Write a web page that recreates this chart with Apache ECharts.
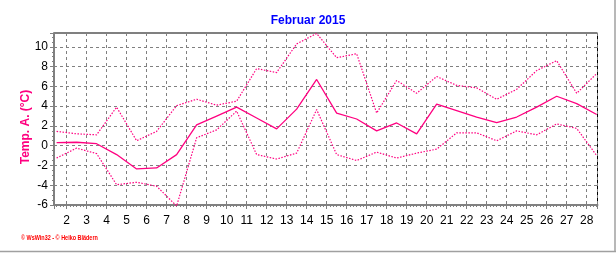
<!DOCTYPE html>
<html>
<head>
<meta charset="utf-8">
<script src="https://cdn.jsdelivr.net/npm/echarts@6/dist/echarts.min.js"></script>
<style>html,body{margin:0;padding:0;background:#fff}#c{width:616px;height:253px}</style>
</head>
<body>
<div id="c"></div>
<script>
// Day of month (values are plotted at mid-day)
const days = [1,2,3,4,5,6,7,8,9,10,11,12,13,14,15,16,17,18,19,20,21,22,23,24,25,26,27,28];
// Daily mean temperature (°C)
const tempMean = [0.3,0.35,0.2,-0.9,-2.35,-2.25,-0.9,2.1,3.0,3.9,2.8,1.7,3.7,6.7,3.3,2.7,1.5,2.3,1.2,4.2,3.55,2.9,2.33,2.9,3.9,5.0,4.25,3.15];
// Daily maximum temperature (°C)
const tempMax = [1.45,1.2,1.1,3.9,0.5,1.45,4.05,4.7,4.1,4.5,7.8,7.4,10.3,11.35,8.9,9.3,3.3,6.6,5.3,7.0,6.1,5.85,4.7,5.7,7.6,8.6,5.3,7.3];
// Daily minimum temperature (°C)
const tempMin = [-1.25,-0.25,-0.8,-3.95,-3.7,-4.1,-6.1,0.8,1.6,3.5,-0.9,-1.35,-0.75,3.65,-0.9,-1.5,-0.65,-1.25,-0.75,-0.35,1.3,1.3,0.5,1.5,1.1,2.2,1.75,-1.0];
const yTicks = [-6,-4,-2,0,2,4,6,8,10];
const xTickLabels = [2,3,4,5,6,7,8,9,10,11,12,13,14,15,16,17,18,19,20,21,22,23,24,25,26,27,28];

const MIDDAY = 0.5;
const pts = arr => days.map((d, i) => [d + MIDDAY, arr[i]]);
const PINK = '#ff0080';
const FONT = 'Liberation Sans, Arial, sans-serif';

const chart = echarts.init(document.getElementById('c'), null, {renderer: 'canvas'});
chart.setOption({
  animation: false,
  backgroundColor: '#ffffff',
  title: {
    text: 'Februar 2015', left: 'center', top: 10,
    textStyle: {color: '#0000ff', fontSize: 12, fontWeight: 'bold', fontFamily: FONT}
  },
  grid: {left: 54, right: 18.5, top: 33, bottom: 48, show: true, borderColor: '#000', borderWidth: 1, backgroundColor: 'transparent'},
  xAxis: {
    type: 'value', min: 1.37, max: 28.54, splitNumber: 27, minInterval: 1, maxInterval: 1,
    axisLine: {show: true, onZero: false, lineStyle: {color: '#808080', width: 2}},
    axisTick: {show: true, length: 4, lineStyle: {color: '#808080'}},
    minorTick: {show: true, splitNumber: 6, length: 2, lineStyle: {color: '#808080'}},
    splitLine: {show: true, lineStyle: {color: '#808080', type: [3, 3], width: 1}},
    axisLabel: {
      margin: 10, color: '#000', fontSize: 12, fontFamily: FONT,
      formatter: v => (xTickLabels.indexOf(Math.round(v * 1000) / 1000) >= 0 ? String(v) : '')
    }
  },
  yAxis: {
    type: 'value', min: -6, max: 11.4, interval: 2,
    name: 'Temp. A. (°C)', nameLocation: 'middle', nameRotate: 90, nameGap: 22, nameMoveOverlap: false,
    nameTextStyle: {color: PINK, fontSize: 12, fontWeight: 'bold', fontFamily: FONT, padding: [0, 16, 0, 0]},
    axisLine: {show: true, onZero: false, lineStyle: {color: '#808080', width: 2}},
    axisTick: {show: true, length: 4, lineStyle: {color: '#808080'}},
    minorTick: {show: true, splitNumber: 4, length: 2, lineStyle: {color: '#808080'}},
    splitLine: {show: true, lineStyle: {color: '#808080', type: [3, 3], width: 1}},
    axisLabel: {
      margin: 6, color: '#000', fontSize: 12, fontFamily: FONT,
      formatter: v => (yTicks.indexOf(Math.round(v * 1000) / 1000) >= 0 ? String(v) : '')
    }
  },
  graphic: [
    {type: 'text', x: 21, y: 235, scaleX: 0.78, originX: 0, style: {text: '© WsWin32 - © Heiko Blädern', fill: '#ff0000', font: 'bold 7px "Liberation Sans", sans-serif'}},
    {type: 'line', shape: {x1: 615, y1: 0, x2: 615, y2: 252}, style: {stroke: '#a0a0a0', lineWidth: 1.5}},
    {type: 'line', shape: {x1: 0, y1: 251.5, x2: 616, y2: 251.5}, style: {stroke: '#a0a0a0', lineWidth: 1.5}}
  ],
  series: [
    {name: 'Max', type: 'line', data: pts(tempMax), showSymbol: false, clip: false,
     lineStyle: {color: PINK, width: 1.2, type: [1.5, 1.5]}},
    {name: 'Min', type: 'line', data: pts(tempMin), showSymbol: false, clip: false,
     lineStyle: {color: PINK, width: 1.2, type: [1.5, 1.5]}},
    {name: 'Mittel', type: 'line', data: pts(tempMean), showSymbol: false, clip: false,
     lineStyle: {color: PINK, width: 1.3}}
  ]
});
</script>
</body>
</html>
